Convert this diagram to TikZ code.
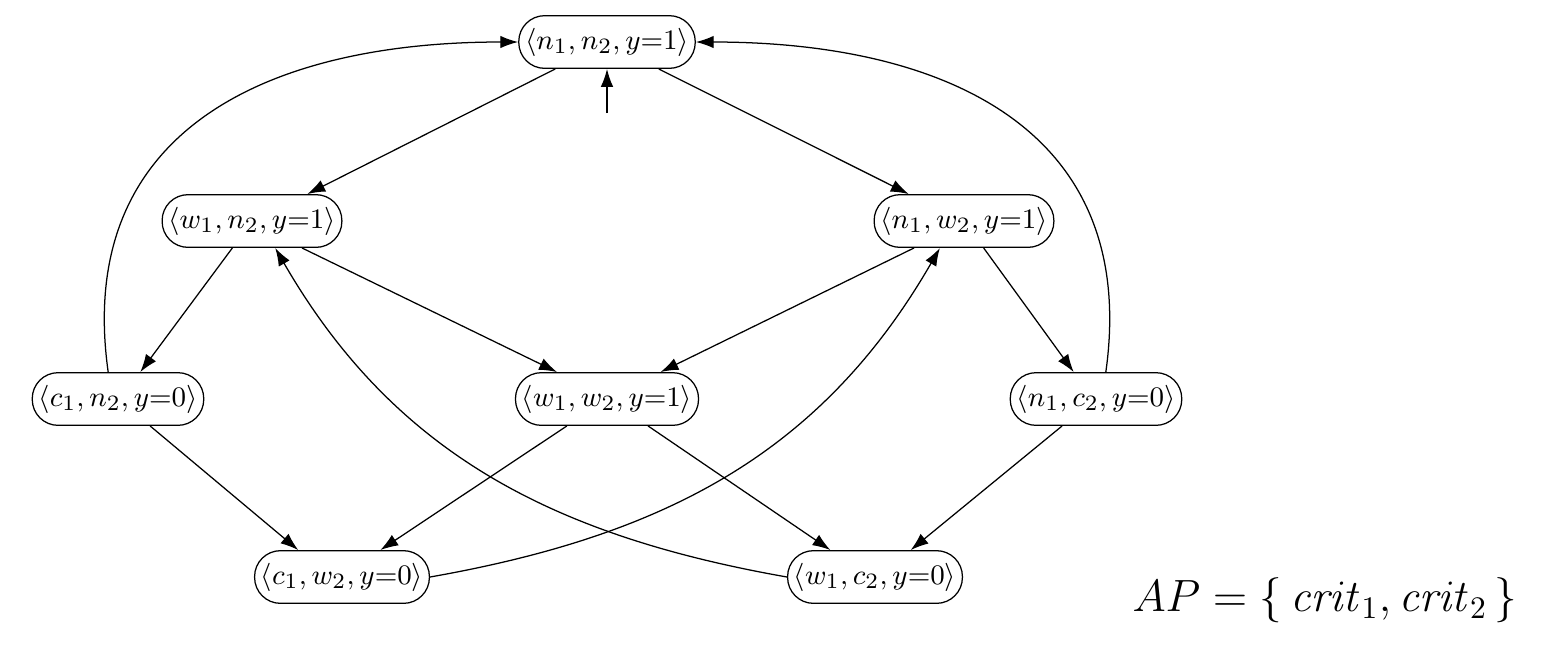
\documentclass[tikz,border=0pt]{standalone}
\usepackage{amsmath,amssymb}
\usepackage{tikz}
\usetikzlibrary{arrows.meta,calc}
\tikzset{
  statebox/.style={
    draw,
    thin,
    shape = rectangle,
    rounded corners = 0.29cm,
    minimum height = 0.59cm,
    inner xsep = 0.07cm,
    inner ysep = 0.05cm,
    font = \fontsize{9.4}{11}\selectfont
  },
  trans/.style={
    -{Latex[length=2mm,width=1.4mm]},
    thin
  }
}
\begin{document}
\begin{tikzpicture}[x=0.0112cm,y=-0.0112cm]
    \useasboundingbox (0,0) rectangle (1543,646);
    % states
    \node[statebox] (nn) at (607,42) {$\langle n_1, n_2, y{=}1\rangle$};
    \node[statebox] (wn) at (252,221) {$\langle w_1, n_2, y{=}1\rangle$};
    \node[statebox] (nw) at (964,221) {$\langle n_1, w_2, y{=}1\rangle$};
    \node[statebox] (cn) at (118,399) {$\langle c_1, n_2, y{=}0\rangle$};
    \node[statebox] (ww) at (607,399) {$\langle w_1, w_2, y{=}1\rangle$};
    \node[statebox] (nc) at (1096,399) {$\langle n_1, c_2, y{=}0\rangle$};
    \node[statebox] (cw) at (342,577) {$\langle c_1, w_2, y{=}0\rangle$};
    \node[statebox] (wc) at (875,577) {$\langle w_1, c_2, y{=}0\rangle$};
    \coordinate (init) at (607,113);
    \node (ap) at (1325,600) {\Large $AP = \{\, \mathit{crit}_1, \mathit{crit}_2 \,\}$};
    % initial state
    \draw[trans] (init) -- (nn);
    % transitions
    \draw[trans] ([xshift=-0.58cm]nn.south) -- ([xshift=0.62cm]wn.north);
    \draw[trans] ([xshift=0.58cm]nn.south) -- ([xshift=-0.62cm]nw.north);
    \draw[trans] ([xshift=-0.22cm]wn.south) -- ([xshift=0.25cm]cn.north);
    \draw[trans] ([xshift=0.56cm]wn.south) -- ([xshift=-0.56cm]ww.north);
    \draw[trans] ([xshift=-0.56cm]nw.south) -- ([xshift=0.6cm]ww.north);
    \draw[trans] ([xshift=0.22cm]nw.south) -- ([xshift=-0.25cm]nc.north);
    \draw[trans] ([xshift=0.36cm]cn.south) -- ([xshift=-0.49cm]cw.north);
    \draw[trans] ([xshift=-0.45cm]ww.south) -- ([xshift=0.43cm]cw.north);
    \draw[trans] ([xshift=0.46cm]ww.south) -- ([xshift=-0.5cm]wc.north);
    \draw[trans] ([xshift=-0.38cm]nc.south) -- ([xshift=0.4cm]wc.north);
    % loops back to the top
    \draw[trans] ([xshift=-0.11cm]cn.north) to[out=98,in=180,looseness=1.2] (nn.west);
    \draw[trans] ([xshift=0.11cm]nc.north) to[out=82,in=0,looseness=1.2] (nn.east);
    % long crossing transitions
    \draw[trans] (cw.east) to[out=10,in=240] ([xshift=-0.27cm]nw.south);
    \draw[trans] (wc.west) to[out=170,in=300] ([xshift=0.26cm]wn.south);
\end{tikzpicture}
\end{document}
